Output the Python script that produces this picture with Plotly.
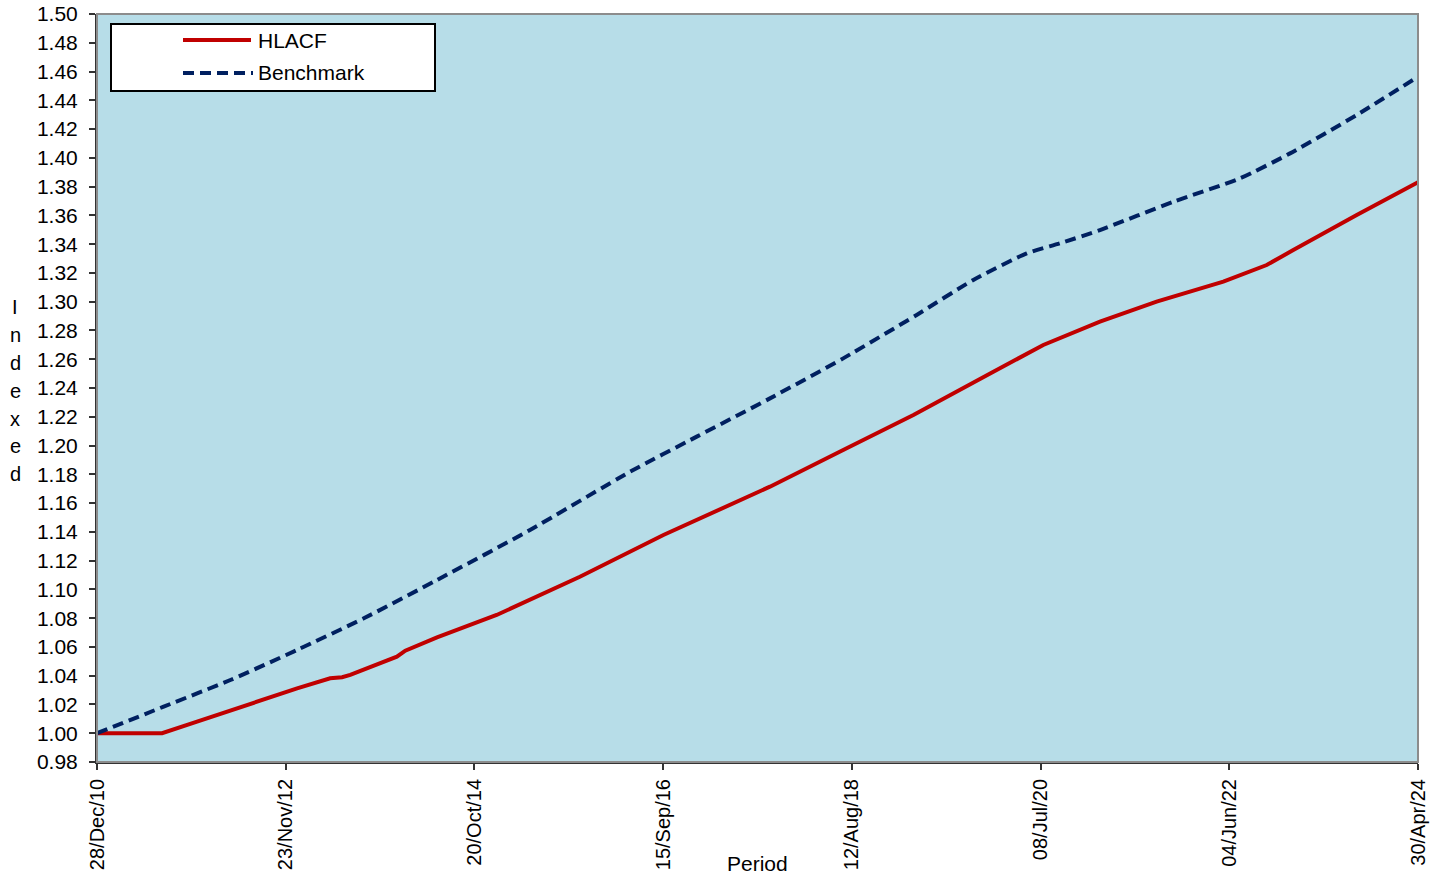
import plotly.graph_objects as go

# ---- data ----
hlacf_dates = [
    "2010-12-28", "2011-08-25", "2012-01-01", "2012-05-03", "2012-09-27",
    "2013-01-04", "2013-05-06", "2013-06-19", "2013-07-19", "2014-01-07",
    "2014-02-07", "2014-06-04", "2015-01-10", "2015-11-13", "2016-09-16",
    "2017-10-14", "2018-07-11", "2019-03-27", "2020-01-16", "2020-07-18",
    "2021-02-12", "2021-09-09", "2022-05-13", "2022-10-20", "2023-01-26",
    "2023-09-17", "2024-04-30",
]
hlacf_values = [
    1.000, 1.000, 1.008, 1.0157, 1.0254,
    1.0312, 1.0382, 1.0389, 1.0405, 1.0532,
    1.0574, 1.0667, 1.0822, 1.1088, 1.1378,
    1.1714, 1.1969, 1.2212, 1.2513, 1.2699,
    1.2861, 1.300, 1.3139, 1.3255, 1.3359,
    1.3603, 1.383,
]

bench_dates = [
    "2010-12-28", "2011-08-31", "2012-05-03", "2013-01-04", "2013-09-07",
    "2014-06-04", "2015-05-13", "2016-05-16", "2017-01-17", "2017-10-14",
    "2018-07-11", "2019-04-08", "2019-11-03", "2020-05-18", "2020-09-18",
    "2021-02-12", "2021-11-10", "2022-07-14", "2023-01-14", "2023-09-17",
    "2024-04-30",
]
bench_values = [
    1.000, 1.0185, 1.037, 1.0579, 1.0799,
    1.1065, 1.1413, 1.1818, 1.2062, 1.2328,
    1.2606, 1.2908, 1.3151, 1.3336, 1.3406,
    1.3498, 1.3695, 1.3858, 1.4031, 1.4298,
    1.4564,
]

tick_dates = ["2010-12-28", "2012-11-23", "2014-10-20", "2016-09-15",
              "2018-08-12", "2020-07-08", "2022-06-04", "2024-04-30"]
tick_labels = ["28/Dec/10", "23/Nov/12", "20/Oct/14", "15/Sep/16",
               "12/Aug/18", "08/Jul/20", "04/Jun/22", "30/Apr/24"]

series_names = ["HLACF", "Benchmark"]
y_title_letters = list("Indexed")
x_title = "Period"

RED = "#C00000"
NAVY = "#002060"
FONT = "Liberation Sans, Arial, sans-serif"
FS = 21

fig = go.Figure()
fig.add_trace(go.Scatter(x=hlacf_dates, y=hlacf_values, mode="lines",
                         name=series_names[0],
                         line=dict(color=RED, width=4), showlegend=False))
fig.add_trace(go.Scatter(x=bench_dates, y=bench_values, mode="lines",
                         name=series_names[1],
                         line=dict(color=NAVY, width=4, dash="11px,6px",
                                   shape="spline", smoothing=0.6),
                         showlegend=False))

# plot geometry (px)
W, H = 1438, 875
ml, mr, mt, mb = 97, 20, 14, 113
pw = W - ml - mr
ph = H - mt - mb

def px_x(x):
    return (x - ml) / pw

def px_y(y):
    return (H - mb - y) / ph

shapes = []
annotations = []

# plot border (gray)
shapes.append(dict(type="rect", xref="paper", yref="paper", x0=0, x1=1, y0=0, y1=1,
                   line=dict(color="#8C8C8C", width=2), layer="above"))

# custom legend box
shapes.append(dict(type="rect", xref="paper", yref="paper",
                   x0=px_x(111), x1=px_x(435), y0=px_y(91), y1=px_y(24),
                   line=dict(color="black", width=2), fillcolor="white", layer="above"))
shapes.append(dict(type="line", xref="paper", yref="paper",
                   x0=px_x(183), x1=px_x(251), y0=px_y(40), y1=px_y(40),
                   line=dict(color=RED, width=4), layer="above"))
shapes.append(dict(type="line", xref="paper", yref="paper",
                   x0=px_x(183), x1=px_x(253), y0=px_y(73), y1=px_y(73),
                   line=dict(color=NAVY, width=4, dash="11px,6px"), layer="above"))
for name, yy in zip(series_names, [40, 73]):
    annotations.append(dict(text=name, xref="paper", yref="paper",
                            x=px_x(256), y=px_y(yy), xanchor="left", yanchor="middle",
                            showarrow=False, font=dict(family=FONT, size=FS, color="black")))

# y-axis title as stacked letters
for i, ch in enumerate(y_title_letters):
    annotations.append(dict(text=ch, xref="paper", yref="paper",
                            x=px_x(15), y=px_y(307 + 27.9 * i),
                            xanchor="center", yanchor="middle", showarrow=False,
                            font=dict(family=FONT, size=20, color="black")))

# x-axis title
annotations.append(dict(text=x_title, xref="paper", yref="paper",
                        x=0.5, y=px_y(864), xanchor="center", yanchor="middle",
                        showarrow=False, font=dict(family=FONT, size=FS, color="black")))

fig.update_layout(
    template="none",
    width=W, height=H,
    margin=dict(l=ml, r=mr, t=mt, b=mb, pad=0, autoexpand=False),
    paper_bgcolor="white",
    plot_bgcolor="#B7DDE8",
    font=dict(family=FONT, size=FS, color="black"),
    shapes=shapes,
    annotations=annotations,
    showlegend=False,
    xaxis=dict(
        type="date",
        automargin=False,
        range=["2010-12-28", "2024-04-30"],
        tickmode="array", tickvals=tick_dates, ticktext=tick_labels,
        tickangle=-90,
        ticks="outside", ticklen=6, tickwidth=1.5, tickcolor="#333333",
        ticklabelstandoff=1,
        showline=True, linecolor="#333333", linewidth=2,
        showgrid=False, zeroline=False,
        tickfont=dict(family=FONT, size=20, color="black"),
    ),
    yaxis=dict(
        automargin=False,
        range=[0.98, 1.50],
        tickmode="linear", tick0=0.98, dtick=0.02, tickformat=".2f",
        ticks="outside", ticklen=6, tickwidth=1.5, tickcolor="#333333",
        ticklabelstandoff=7,
        showline=True, linecolor="#333333", linewidth=2,
        showgrid=False, zeroline=False,
        tickfont=dict(family=FONT, size=FS, color="black"),
    ),
)

fig.write_html(
    "out.html",
    config={"displayModeBar": False},
    post_script="document.documentElement.style.margin='0';"
                "document.body.style.margin='0';document.body.style.padding='0';"
                "document.body.style.overflow='hidden';",
)
